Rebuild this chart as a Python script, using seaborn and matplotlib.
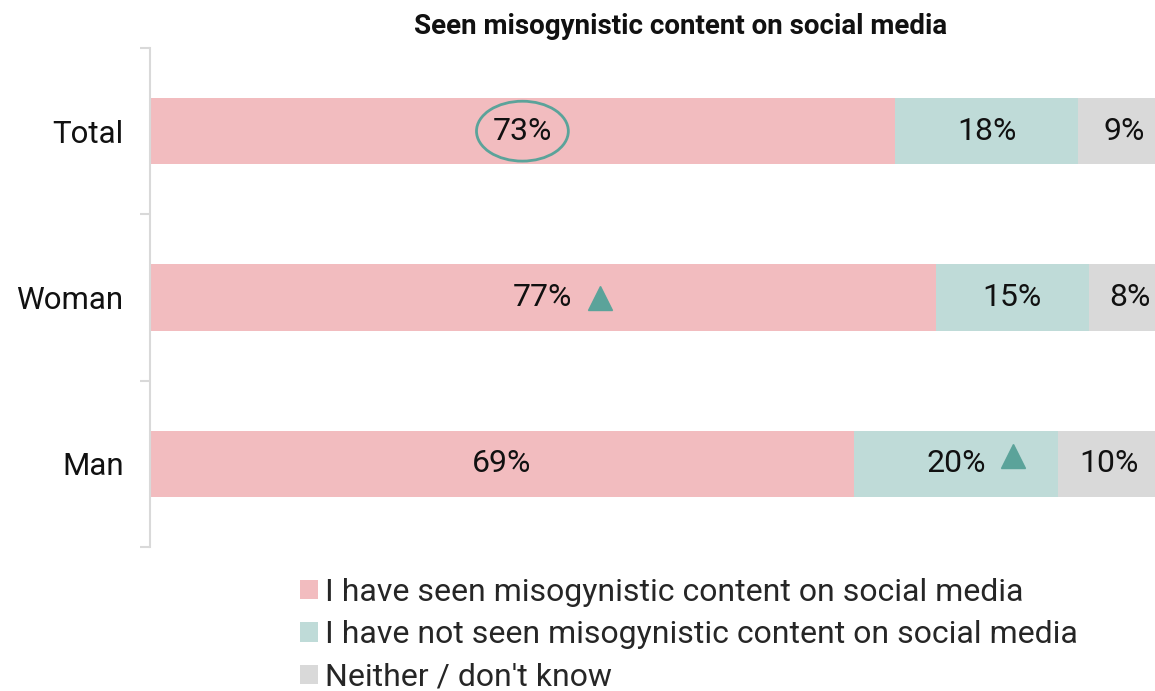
import matplotlib
matplotlib.use("Agg")
import matplotlib.pyplot as plt
from matplotlib.patches import Ellipse, Patch
import seaborn as sns
import pandas as pd
import numpy as np

sns.set_style("white")
plt.rcParams["font.family"] = ["Roboto", "DejaVu Sans"]

# Survey shares (%) per group
groups = ["Total", "Woman", "Man"]
seen = [73, 77, 69]
not_seen = [18, 15, 20]
neither = [9, 8, 10]

series_names = [
    "I have seen misogynistic content on social media",
    "I have not seen misogynistic content on social media",
    "Neither / don't know",
]
colors = ["#F2BCBF", "#BFDBD8", "#D9D9D9"]
accent = "#5BA39A"

title = "Seen misogynistic content on social media"

# Significance markers: (group, series index)
sig_up = [("Woman", 0), ("Man", 1)]
circled = ("Total", 0)

series = [seen, not_seen, neither]
cum = np.cumsum(np.array(series), axis=0)  # running totals for stacking

fig = plt.figure(figsize=(11.55, 6.91), dpi=100)
ax = fig.add_axes([150 / 1155, 1 - 547 / 691, 1 - 150 / 1155, (547 - 48) / 691])

# Draw stacked bars: longest cumulative first, shorter ones overlaid
for i in reversed(range(len(series))):
    df = pd.DataFrame({"group": groups, "value": cum[i]})
    sns.barplot(data=df, x="value", y="group", order=groups, orient="h",
                color=colors[i], width=0.4, saturation=1, ax=ax,
                edgecolor="none", linewidth=0)

# Value labels centred on each segment
for gi, g in enumerate(groups):
    for si in range(len(series)):
        start = cum[si - 1][gi] if si > 0 else 0
        val = series[si][gi]
        ax.text(start + val / 2, gi, f"{val}%", ha="center", va="center",
                fontsize=23, color="#111111")

# Circle around the highlighted value
gname, si = circled
gi = groups.index(gname)
cx = (cum[si - 1][gi] if si > 0 else 0) + series[si][gi] / 2
ax.add_patch(Ellipse((cx, gi), width=9.0, height=0.36, fill=False,
                     edgecolor=accent, linewidth=2, zorder=5))

# Upward triangles for significantly higher values
for gname, si in sig_up:
    gi = groups.index(gname)
    cx = (cum[si - 1][gi] if si > 0 else 0) + series[si][gi] / 2
    dy = -0.05 if gname == "Man" else 0
    ax.plot(cx + 5.6, gi + dy, marker="^", markersize=17, color=accent,
            linestyle="none", zorder=5)

ax.set_xlim(0, 98.5)
ax.set_ylim(2.5, -0.5)
ax.set_xlabel("")
ax.set_ylabel("")
ax.xaxis.set_visible(False)

ax.set_yticks(range(len(groups)))
ax.set_yticklabels(groups, fontsize=22.5)
ax.set_yticks([-0.5, 0.5, 1.5, 2.5], minor=True)
ax.tick_params(axis="y", which="major", length=0, pad=19, labelcolor="#111111")
ax.tick_params(axis="y", which="minor", length=7, width=1.5, color="#D9D9D9", left=True)

for side in ["top", "right", "bottom"]:
    ax.spines[side].set_visible(False)
ax.spines["left"].set_color("#D9D9D9")
ax.spines["left"].set_linewidth(1.5)

fig.text(681 / 1155, 1 - 27 / 691, title, ha="center", va="center",
         fontsize=20, fontweight="bold", color="#111111")

handles = [Patch(facecolor=c, edgecolor="none") for c in colors]
fig.legend(handles, series_names, loc="upper left",
           bbox_to_anchor=(300 / 1155, 1 - 578 / 691), frameon=False,
           fontsize=23, handlelength=0.56, handleheight=0.56,
           handletextpad=0.22, labelspacing=0.42, borderaxespad=0,
           borderpad=0)

fig.savefig("out.png", dpi=100)
